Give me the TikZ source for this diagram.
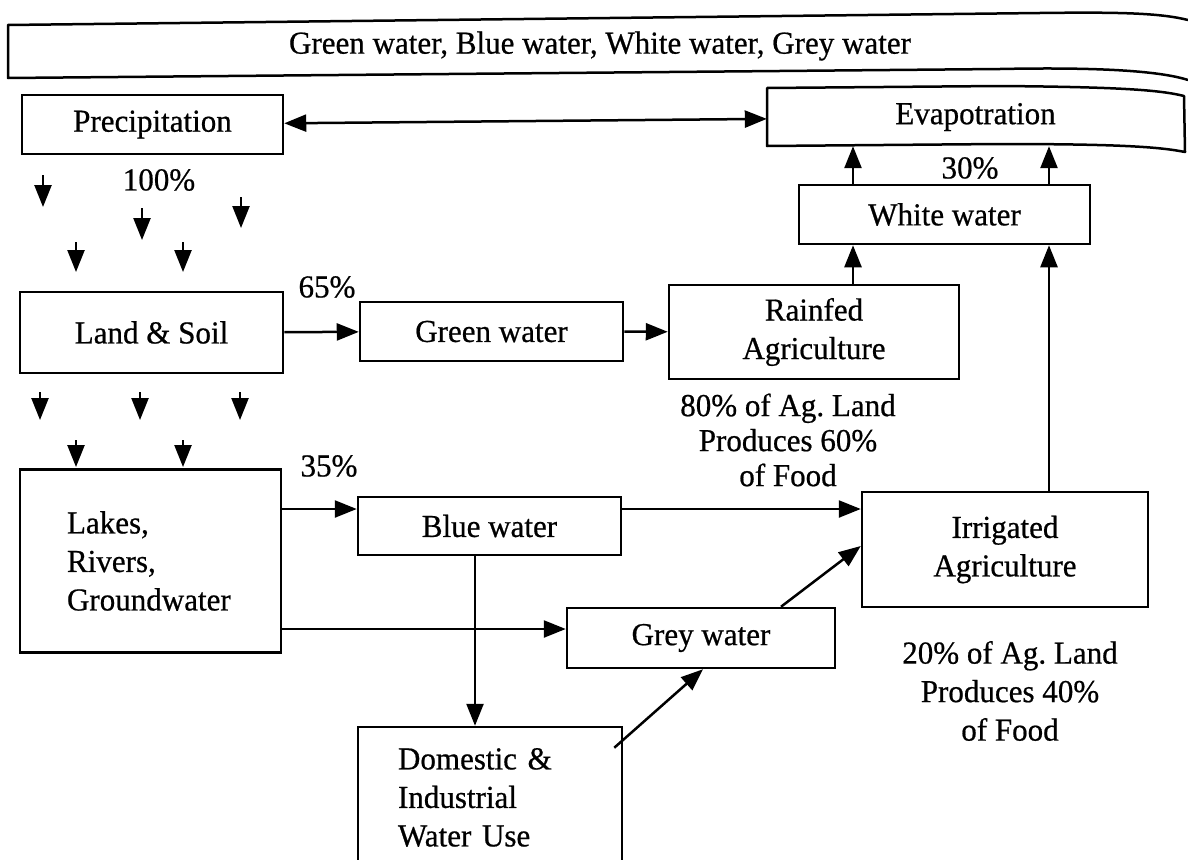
\documentclass[tikz,border=0pt]{standalone}
\usepackage{fontspec}
\setmainfont{Liberation Serif}[FakeBold=0.6, FakeStretch=0.97]
\usetikzlibrary{arrows.meta,calc}
\tikzset{
  frame/.style={line width=2.5pt, line join=round},
  box/.style={draw, line width=2.5pt, inner sep=0pt, align=center,
    font=\fontsize{32}{38.5}\selectfont},
  lbl/.style={inner sep=0pt, align=center, font=\fontsize{32}{38}\selectfont},
  arr/.style={line width=2.5pt, -{Triangle[length=22pt,width=17pt]}},
  arrboth/.style={line width=2.5pt, {Triangle[length=22pt,width=17pt]}-{Triangle[length=22pt,width=17pt]}}
}
\begin{document}
\begin{tikzpicture}[x=1pt,y=-1pt]
\fill[white] (0,0) rectangle (1188,859);
\useasboundingbox (0,0) rectangle (1188,859);

% heading banner, curling away at its right end
\draw[frame] (1188,20) .. controls (1160,13) and (1120,12) .. (1040,13) -- (8,25) -- (8,78)
  -- (1000,69) .. controls (1100,67) and (1160,71) .. (1188,80);
\node[lbl] (title) at (600,46) {Green water, Blue water, White water, Grey water};

% boxes
\node[box, minimum width=261pt, minimum height=59pt] (prec) at (152.5,124.5) {Precipitation};
\node[inner sep=0pt, minimum width=417pt, minimum height=58pt,
  font=\fontsize{32}{38}\selectfont] (evap) at (975.5,117) {Evapotration};
\draw[frame] (767,88) -- (1000,86) .. controls (1120,87) and (1160,90) .. (1184,96)
  -- (1185,152) .. controls (1160,147) and (1120,144) .. (1000,144) -- (767,146) -- cycle;
\node[box, minimum width=291pt, minimum height=59pt] (white) at (944.5,214.5) {White water};
\node[box, minimum width=263pt, minimum height=81pt] (land) at (151.5,332.5) {Land \& Soil};
\node[box, minimum width=263pt, minimum height=59pt] (green) at (491.5,331.5) {Green water};
\node[box, minimum width=290pt, minimum height=94pt] (rainfed) at (814,332) {Rainfed\\Agriculture};
\node[box, text width=167pt, inner xsep=47pt, align=left, minimum height=183pt] (lakes)
  at (150.5,561) {Lakes,\\Rivers,\\Groundwater};
\node[box, minimum width=263pt, minimum height=58pt] (blue) at (489.5,526) {Blue water};
\node[box, minimum width=268pt, minimum height=60pt] (grey) at (701,638) {Grey water};
\node[box, minimum width=286pt, minimum height=115pt] (irrig) at (1005,549.5) {Irrigated\\Agriculture};
% the lower part of this box runs past the bottom edge
\node[box, text width=184pt, inner xsep=40pt, align=left, minimum height=141pt] (dom)
  at (490,797.5) {Domestic \&\\Industrial\\Water Use};

% percentages and captions
\node[lbl] (p100) at (159,180) {100\%};
\node[lbl] (p65) at (327,287) {65\%};
\node[lbl] (p35) at (329,466) {35\%};
\node[lbl] (p30) at (970,168) {30\%};
\node[lbl, font=\fontsize{32}{35}\selectfont] (rcap) at (788,440)
  {80\% of Ag.\ Land\\Produces 60\%\\of Food};
\node[lbl, font=\fontsize{32}{38.5}\selectfont] (icap) at (1010,691)
  {20\% of Ag.\ Land\\Produces 40\%\\of Food};

% rain falling on the land and seeping down to the water bodies
\foreach \n/\x/\ya/\yb in {a/43/175/207, b/142/208/240, c/241/197/228, d/76/242/272,
    e/183/242/272, f/40/392/420, g/140/392/420, h/240/392/420, i/76/440/467, j/183/440/467} {
  \coordinate (rain\n s) at (\x,\ya);
  \coordinate (rain\n e) at (\x,\yb);
  \draw[arr] (rain\n s) -- (rain\n e);
}

% connector guides
\coordinate (colA) at (853,0);
\coordinate (colB) at (1049,0);
\coordinate (colD) at (475,0);
\coordinate (colE) at (703,0);
\coordinate (colF) at (781,0);
\coordinate (rowB) at (0,509);
\coordinate (rowG) at (0,629);
\coordinate (rowI) at (0,546);

% flows
\draw[arrboth] (prec) -- (evap);
\draw[arr] (land) -- (green);
\draw[arr] (green) -- (rainfed);
\draw[arr] (rainfed.north -| colA) -- (white.south -| colA);
\draw[arr] (irrig.north -| colB) -- (white.south -| colB);
\draw[arr] (white.north -| colA) -- (evap.south -| colA);
\draw[arr] (white.north -| colB) -- (evap.south -| colB);
\draw[arr] (lakes.east |- rowB) -- (blue.west |- rowB);
\draw[arr] (blue.east |- rowB) -- (irrig.west |- rowB);
\draw[arr] (lakes.east |- rowG) -- (grey.west |- rowG);
\draw[arr] (blue.south -| colD) -- (dom.north -| colD);
\coordinate (domout) at ($(dom.north east)+(-9,22)$);
\draw[arr] (domout) -- (grey.south -| colE);
\draw[arr] (grey.north -| colF) -- (irrig.west |- rowI);
\end{tikzpicture}
\end{document}
